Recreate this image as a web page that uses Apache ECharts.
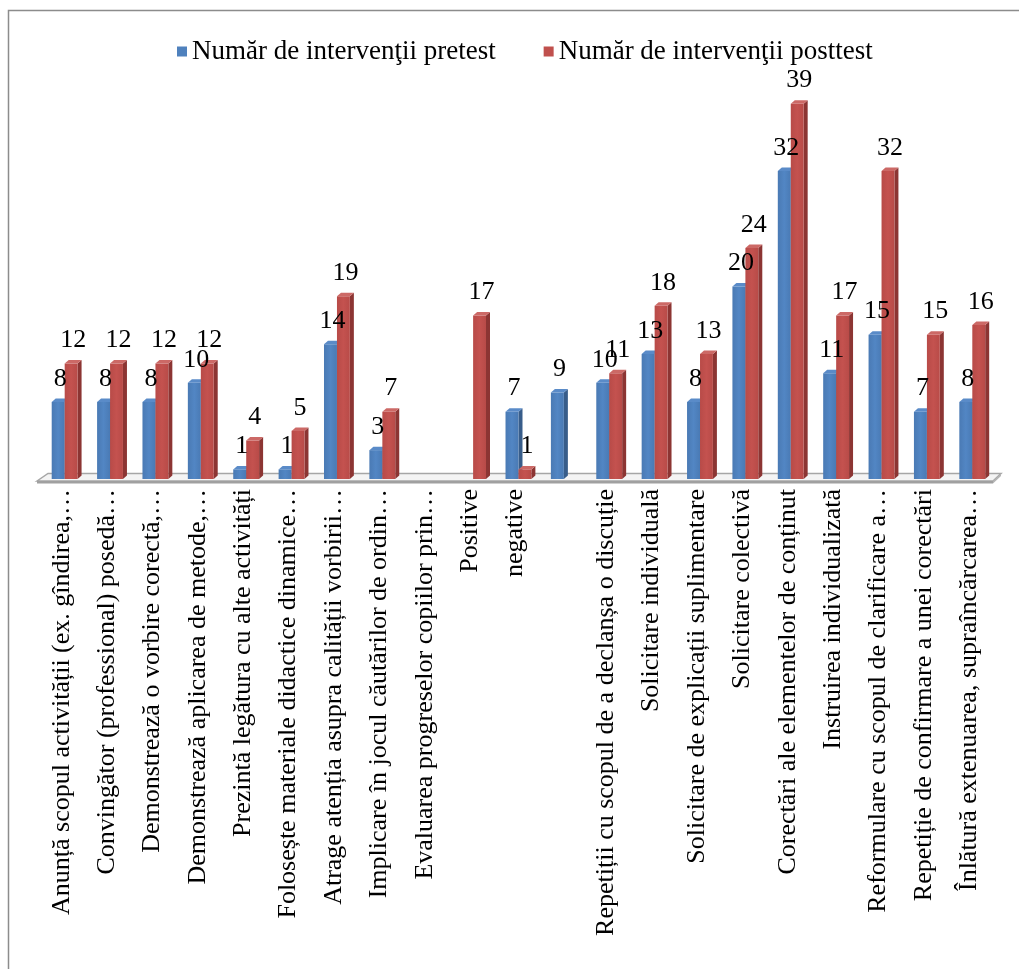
<!DOCTYPE html>
<html><head><meta charset="utf-8">
<script src="https://cdn.jsdelivr.net/npm/echarts@6/dist/echarts.min.js"></script>
<style>html,body{margin:0;padding:0;background:#fff}#c{width:1019px;height:969px}</style>
</head><body><div id="c"></div>
<script>
const categories = [
  'Anunță scopul activității (ex. gîndirea,…',
  'Convingător (professional) posedă…',
  'Demonstrează o vorbire corectă,…',
  'Demonstrează aplicarea de metode,…',
  'Prezintă legătura cu alte activități',
  'Folosește materiale didactice dinamice…',
  'Atrage atenția asupra calității vorbirii…',
  'Implicare în jocul căutărilor de ordin…',
  'Evaluarea progreselor copiilor prin…',
  'Positive',
  'negative',
  '',
  'Repetiții cu scopul de a declanșa o discuție',
  'Solicitare individuală',
  'Solicitare de explicații suplimentare',
  'Solicitare colectivă',
  'Corectări ale elementelor de conținut',
  'Instruirea individualizată',
  'Reformulare cu scopul de clarificare a…',
  'Repetiție de confirmare a unei corectări',
  'Înlătură extenuarea, supraîncărcarea…'
];
const pretest  = [8, 8, 8, 10, 1, 1, 14, 3, null, null, 7, 9, 10, 13, 8, 20, 32, 11, 15, 7, 8];
const posttest = [12, 12, 12, 12, 4, 5, 19, 7, null, 17, 1, null, 11, 18, 13, 24, 39, 17, 32, 15, 16];
const seriesNames = ['Număr de intervenţii pretest', 'Număr de intervenţii posttest'];

const FONT = '"Liberation Serif", "Times New Roman", serif';
const GRID = {left: 39, right: 27, top: 94, bottom: 490};

function makeRender(cFront, cSide, cTop, f0, f1) {
  return function (params, api) {
    const v = api.value(1);
    if (v == null || isNaN(v)) return;
    const idx = api.value(0);
    const base = api.coord([idx, 0]);
    const tip = api.coord([idx, v]);
    const band = api.size([1, 0])[0];
    const xa = base[0] + f0 * band, xb = base[0] + f1 * band;
    const dx = 4, dy = 3.5;
    const yb = base[1], yt = tip[1];
    return {
      type: 'group',
      children: [
        {type: 'polygon', shape: {points: [[xb, yb], [xb + dx, yb - dy], [xb + dx, yt - dy], [xb, yt]]},
         style: {fill: cSide}},
        {type: 'rect', shape: {x: xa, y: yt, width: xb - xa, height: yb - yt},
         style: {fill: new echarts.graphic.LinearGradient(0, 0, 1, 0, [
           {offset: 0, color: cFront[0]}, {offset: 0.5, color: cFront[1]}, {offset: 1, color: cFront[0]}])}},
        {type: 'polygon', shape: {points: [[xa, yt], [xa + dx, yt - dy], [xb + dx, yt - dy], [xb, yt]]},
         style: {fill: cTop}},
        {type: 'text', z2: 10, style: {text: String(v), x: (xa + xb + dx) / 2, y: yt - 23,
          textAlign: 'center', textVerticalAlign: 'middle', fill: '#000', fontSize: 26, fontFamily: FONT}}
      ]
    };
  };
}

const chart = echarts.init(document.getElementById('c'), null, {renderer: 'canvas'});
chart.setOption({
  animation: false,
  backgroundColor: '#fff',
  legend: {
    data: seriesNames, left: 172, top: 33, itemWidth: 10, itemHeight: 10, itemGap: 48, icon: 'rect',
    textStyle: {fontSize: 27, fontFamily: FONT, color: '#000'}
  },
  grid: GRID,
  xAxis: {
    type: 'category', data: categories,
    axisLine: {show: false}, axisTick: {show: false},
    axisLabel: {rotate: 90, interval: 0, fontSize: 26, fontFamily: FONT, color: '#000', margin: 10}
  },
  yAxis: {type: 'value', min: 0, max: 40, show: false},
  series: [
    {name: seriesNames[0], type: 'custom', clip: false, itemStyle: {color: '#4F81BD'},
     encode: {x: 0, y: 1},
     data: pretest.map((v, i) => [i, v == null ? NaN : v]),
     renderItem: makeRender(['#4A7AB4', '#5286C4'], '#385D8A', '#5A8BC8', -0.22, 0.066)},
    {name: seriesNames[1], type: 'custom', clip: false, itemStyle: {color: '#C0504D'},
     encode: {x: 0, y: 1},
     data: posttest.map((v, i) => [i, v == null ? NaN : v]),
     renderItem: makeRender(['#B84B48', '#C4524F'], '#8C3533', '#CC6966', 0.066, 0.35)}
  ],
  graphic: [
    {type: 'rect', shape: {x: 8.5, y: 10.5, width: 1030, height: 980}, style: {fill: 'none', stroke: '#8c8c8c', lineWidth: 1.5}, z: -10},
    {type: 'polygon', shape: {points: [[37, 481], [48, 473.5], [1001, 473.5], [993, 481]]},
     style: {fill: '#f4f4f4', stroke: '#a6a6a6', lineWidth: 1.5}, z: -5},
    {type: 'rect', shape: {x: 37, y: 481, width: 956, height: 2.5}, style: {fill: '#a0a0a0'}, z: -5},
    {type: 'polygon', shape: {points: [[993, 481], [1001, 473.5], [1001, 476], [993, 483.5]]}, style: {fill: '#b5b5b5'}, z: -5}
  ]
});
</script></body></html>
